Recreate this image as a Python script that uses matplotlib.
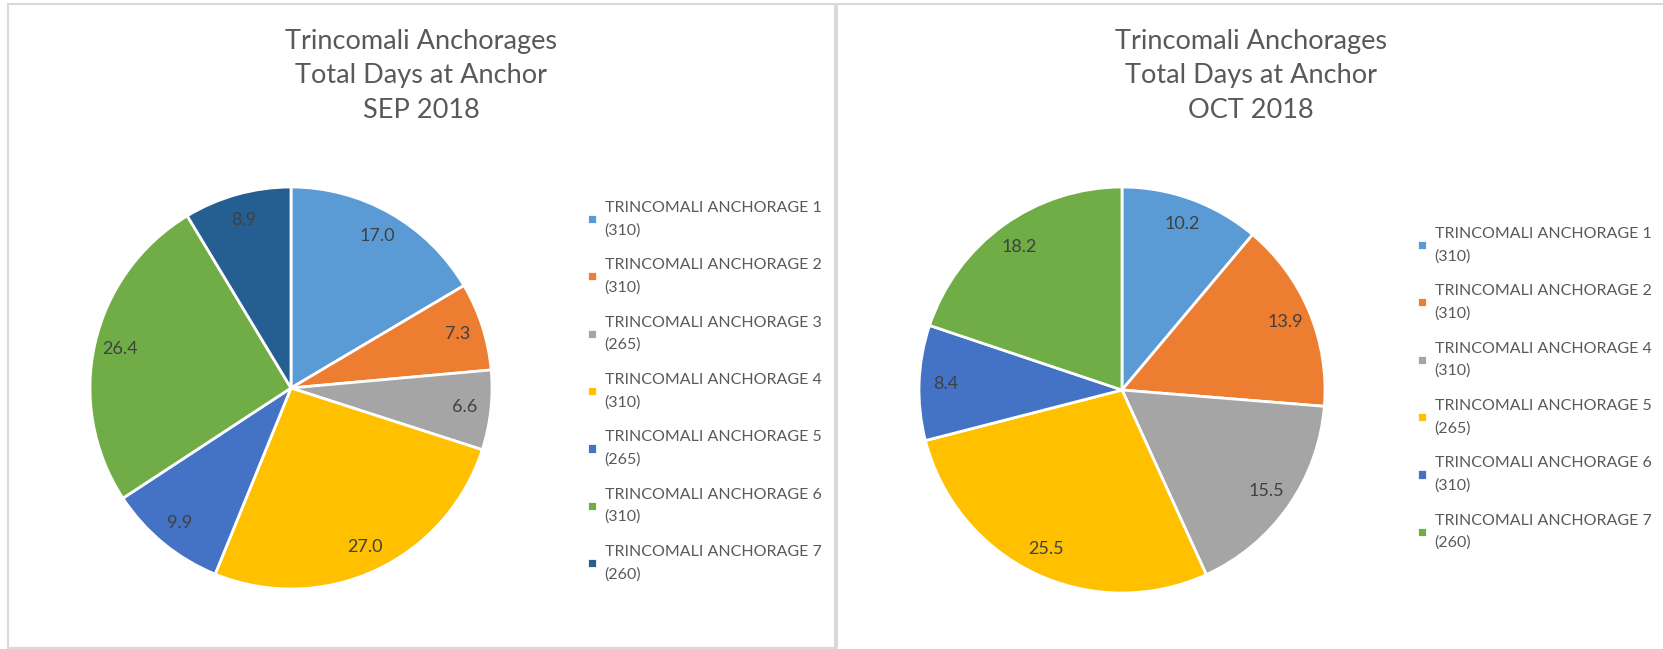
import matplotlib.pyplot as plt
from matplotlib.patches import Rectangle

# Figure size in pixels (dpi=100)
W, H = 1663, 649

title_sep = "Trincomali Anchorages\nTotal Days at Anchor\nSEP 2018"
title_oct = "Trincomali Anchorages\nTotal Days at Anchor\nOCT 2018"

names_sep = ["TRINCOMALI ANCHORAGE 1\n(310)", "TRINCOMALI ANCHORAGE 2\n(310)",
             "TRINCOMALI ANCHORAGE 3\n(265)", "TRINCOMALI ANCHORAGE 4\n(310)",
             "TRINCOMALI ANCHORAGE 5\n(265)", "TRINCOMALI ANCHORAGE 6\n(310)",
             "TRINCOMALI ANCHORAGE 7\n(260)"]
days_sep = [17.0, 7.3, 6.6, 27.0, 9.9, 26.4, 8.9]
colors_sep = ["#5B9BD5", "#ED7D31", "#A5A5A5", "#FFC000", "#4472C4", "#70AD47", "#255E91"]

names_oct = ["TRINCOMALI ANCHORAGE 1\n(310)", "TRINCOMALI ANCHORAGE 2\n(310)",
             "TRINCOMALI ANCHORAGE 4\n(310)", "TRINCOMALI ANCHORAGE 5\n(265)",
             "TRINCOMALI ANCHORAGE 6\n(310)", "TRINCOMALI ANCHORAGE 7\n(260)"]
days_oct = [10.2, 13.9, 15.5, 25.5, 8.4, 18.2]
colors_oct = ["#5B9BD5", "#ED7D31", "#A5A5A5", "#FFC000", "#4472C4", "#70AD47"]

FONT = ["Lato", "DejaVu Sans"]
plt.rcParams['font.family'] = FONT


def px_axes(fig, cx, cy, r):
    # square axes around a pie centre given in pixels from top-left
    return fig.add_axes([(cx - r) / W, (H - cy - r) / H, 2 * r / W, 2 * r / H])


def draw_pie(fig, ax, values, colors, names, title, title_x, leg_x, leg_y):
    wedges, texts = ax.pie(values, colors=colors, startangle=90, counterclock=False,
                           labels=["%.1f" % v for v in values], labeldistance=0.87,
                           wedgeprops=dict(edgecolor="white", linewidth=2),
                           textprops=dict(color="#404040", fontsize=13))
    for t in texts:
        t.set_ha("center")
        t.set_va("center")
    ax.set_xlim(-1, 1)
    ax.set_ylim(-1, 1)
    ax.axis("off")
    fig.text(title_x / W, 1 - 76 / H, title, ha="center", va="center",
             fontsize=19.5, color="#595959", linespacing=1.465)
    leg = fig.legend(wedges, names, loc="upper left",
                     bbox_to_anchor=(leg_x / W, 1 - leg_y / H),
                     frameon=False, fontsize=11.5, labelcolor="#595959",
                     handlelength=0.6, handleheight=0.6, handletextpad=0.5,
                     labelspacing=1.32, borderpad=0, borderaxespad=0)
    for t in leg.get_texts():
        t.set_linespacing(1.7)
    return leg


fig = plt.figure(figsize=(W / 100, H / 100), dpi=100)

# chart area borders
fig.patches.append(Rectangle((8 / W, 1 / H), 827 / W, 644 / H, transform=fig.transFigure,
                             fill=False, edgecolor="#D9D9D9", linewidth=1.5))
fig.patches.append(Rectangle((837 / W, -10 / H), 900 / W, 655 / H, transform=fig.transFigure,
                             fill=False, edgecolor="#D9D9D9", linewidth=1.5))

ax1 = px_axes(fig, 291, 388, 201)
draw_pie(fig, ax1, days_sep, colors_sep, names_sep, title_sep, 421, 587, 201)

ax2 = px_axes(fig, 1122, 390, 203)
draw_pie(fig, ax2, days_oct, colors_oct, names_oct, title_oct, 1251, 1417, 227)

fig.savefig("out.png", dpi=100)
